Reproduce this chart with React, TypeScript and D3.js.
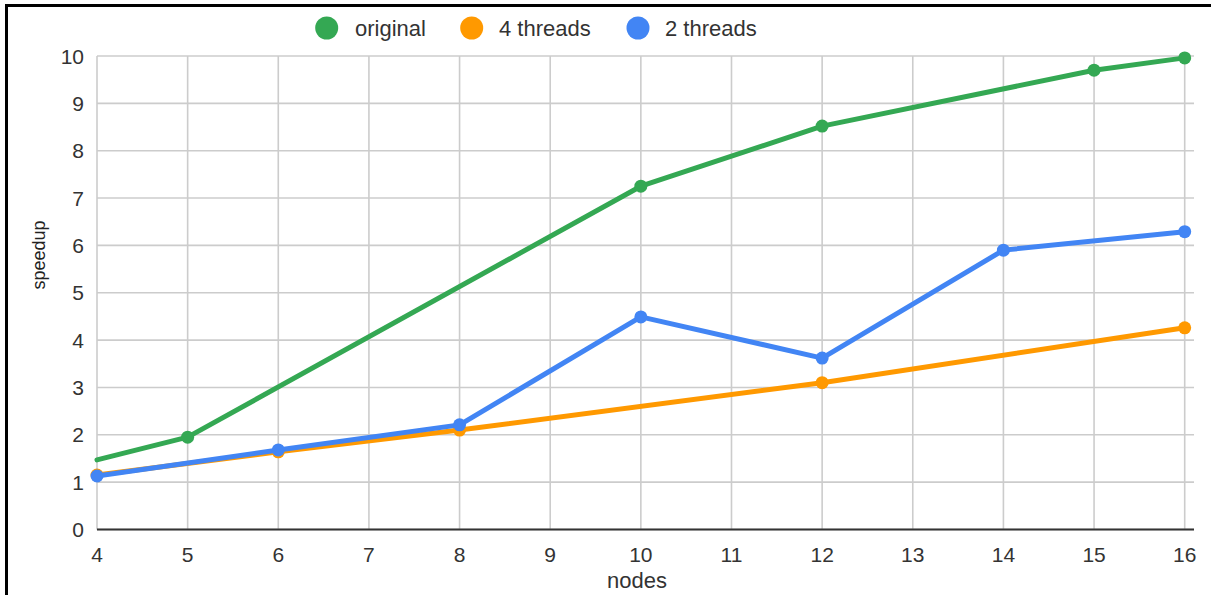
import React from "react";
import * as d3 from "d3";

const xTicks = [4, 5, 6, 7, 8, 9, 10, 11, 12, 13, 14, 15, 16];
const yTicks = [0, 1, 2, 3, 4, 5, 6, 7, 8, 9, 10];

const originalX = [4, 5, 10, 12, 15, 16];
const originalY = [1.47, 1.95, 7.25, 8.52, 9.7, 9.96];
const originalMarked = [false, true, true, true, true, true];

const fourX = [4, 6, 8, 12, 16];
const fourY = [1.15, 1.64, 2.1, 3.1, 4.26];

const twoX = [4, 6, 8, 10, 12, 14, 16];
const twoY = [1.13, 1.68, 2.21, 4.49, 3.62, 5.9, 6.29];

const seriesNames = ["original", "4 threads", "2 threads"];
const colors = ["#34a853", "#ff9900", "#4285f4"];

const W = 1211;
const H = 595;
const FONT = "'Liberation Sans', Arial, sans-serif";

export default function App() {
  const x = d3.scaleLinear().domain([4, 16]).range([97, 1184.7]);
  const y = d3.scaleLinear().domain([0, 10]).range([529.5, 56]);
  const gridRight = 1194;

  const series = [
    { xs: originalX, ys: originalY, marked: originalMarked },
    { xs: fourX, ys: fourY, marked: fourX.map(() => true) },
    { xs: twoX, ys: twoY, marked: twoX.map(() => true) },
  ];

  const line = d3
    .line<[number, number]>()
    .x((d) => x(d[0]))
    .y((d) => y(d[1]));

  const legendCx = [326.7, 471.7, 638];
  const legendTx = [355, 499, 665];

  return (
    <svg
      width={W}
      height={H}
      style={{ position: "absolute", left: 0, top: 0, background: "#fff" }}
      fontFamily={FONT}
    >
      <rect x={0} y={0} width={W} height={H} fill="#fff" />
      {/* frame */}
      <line x1={5.5} x2={W} y1={5.5} y2={5.5} stroke="#000" strokeWidth={3} />
      <line x1={6.5} x2={6.5} y1={4} y2={H} stroke="#000" strokeWidth={3} />

      {/* gridlines */}
      {yTicks.map((t) => (
        <line
          key={"hy" + t}
          x1={x(4)}
          x2={gridRight}
          y1={y(t)}
          y2={y(t)}
          stroke="#cccccc"
          strokeWidth={1.6}
        />
      ))}
      {xTicks.map((t) => (
        <line
          key={"vx" + t}
          x1={x(t)}
          x2={x(t)}
          y1={y(10)}
          y2={y(0)}
          stroke="#cccccc"
          strokeWidth={1.6}
        />
      ))}
      {/* baseline */}
      <line x1={x(4)} x2={gridRight} y1={y(0)} y2={y(0)} stroke="#333" strokeWidth={2} />

      {/* y tick labels */}
      {yTicks.map((t) => (
        <text
          key={"yl" + t}
          x={84}
          y={y(t)}
          dy="0.36em"
          textAnchor="end"
          fontSize={21}
          fill="#333"
        >
          {t}
        </text>
      ))}
      {/* x tick labels */}
      {xTicks.map((t) => (
        <text
          key={"xl" + t}
          x={x(t)}
          y={562}
          textAnchor="middle"
          fontSize={21}
          fill="#333"
        >
          {t}
        </text>
      ))}

      {/* axis titles */}
      <text x={637} y={588} textAnchor="middle" fontSize={22} fill="#333">
        nodes
      </text>
      <text
        transform={`translate(45, 255) rotate(-90)`}
        textAnchor="middle"
        fontSize={18}
        fill="#222"
      >
        speedup
      </text>

      {/* series */}
      {series.map((s, i) => {
        const pts: [number, number][] = s.xs.map((v, j) => [v, s.ys[j]]);
        return (
          <g key={"s" + i}>
            <path
              d={line(pts) || ""}
              fill="none"
              stroke={colors[i]}
              strokeWidth={5}
              strokeLinejoin="round"
              strokeLinecap="round"
            />
            {pts.map((p, j) =>
              s.marked[j] ? (
                <circle key={j} cx={x(p[0])} cy={y(p[1])} r={6.5} fill={colors[i]} />
              ) : null
            )}
          </g>
        );
      })}

      {/* legend */}
      {seriesNames.map((n, i) => (
        <g key={"lg" + i}>
          <circle cx={legendCx[i]} cy={28} r={11.5} fill={colors[i]} />
          <text x={legendTx[i]} y={35.5} fontSize={22} fill="#333">
            {n}
          </text>
        </g>
      ))}
    </svg>
  );
}
